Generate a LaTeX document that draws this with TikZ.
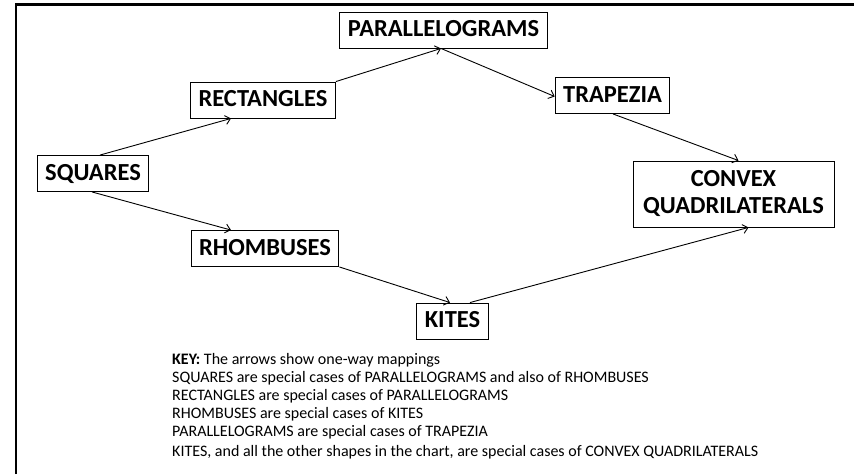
\documentclass[tikz,border=0pt]{standalone}
\usepackage{fontspec}
\setmainfont{Carlito}
\usepackage{tikz}
\usetikzlibrary{arrows.meta}

\begin{document}
\begin{tikzpicture}[x=1pt,y=-1pt,
  box/.style={draw,line width=0.9pt,inner xsep=8pt,inner ysep=0pt,minimum height=36pt,
    text height=16pt,text depth=3pt,font=\fontsize{24.5}{27}\selectfont\bfseries},
  arr/.style={-{Straight Barb[length=5pt,width=9pt]},line width=0.9pt}]
      \useasboundingbox (0,0) rectangle (854,474);
      \draw[line width=2.7pt] (16,474) -- (16,4.5) -- (854,4.5);
      \node[box] (para) at (443.5,30) {PARALLELOGRAMS};
      \node[box] (rect) at (263,100) {RECTANGLES};
      \node[box] (sq) at (93,173.5) {SQUARES};
      \node[box] (trap) at (612.5,95.5) {TRAPEZIA};
      \node[box,text height=,text depth=,minimum width=201pt,minimum height=66pt,align=center] (conv) at (733.5,194) {CONVEX\\QUADRILATERALS};
      \node[box] (rhomb) at (265,248.5) {RHOMBUSES};
      \node[box] (kites) at (452.5,321) {KITES};
      \draw[arr] ([xshift=7pt]sq.north) -- ([xshift=-32pt]rect.south);
      \draw[arr] ([xshift=-1pt]sq.south) -- ([xshift=-34pt]rhomb.north);
      \draw[arr] (rect.north east) -- ([xshift=-2.5pt]para.south);
      \draw[arr] ([xshift=-2.5pt]para.south) -- ([yshift=-1pt]trap.west);
      \draw[arr] ([xshift=0.5pt]trap.south) -- ([xshift=5pt]conv.north);
      \draw[arr] (rhomb.south east) -- ([xshift=-2.5pt]kites.north);
      \draw[arr] ([xshift=17.5pt]kites.north) -- ([xshift=15pt]conv.south);
      \node[anchor=north west,align=left,inner sep=0pt,font=\fontsize{16}{18}\selectfont] (key) at (172,353)
        {\textbf{KEY:} The arrows show one-way mappings\\
         SQUARES are special cases of PARALLELOGRAMS and also of RHOMBUSES\\
         RECTANGLES are special cases of PARALLELOGRAMS\\
         RHOMBUSES are special cases of KITES\\
         PARALLELOGRAMS are special cases of TRAPEZIA\\[2pt]
         KITES, and all the other shapes in the chart, are special cases of CONVEX QUADRILATERALS};
\end{tikzpicture}
\end{document}
